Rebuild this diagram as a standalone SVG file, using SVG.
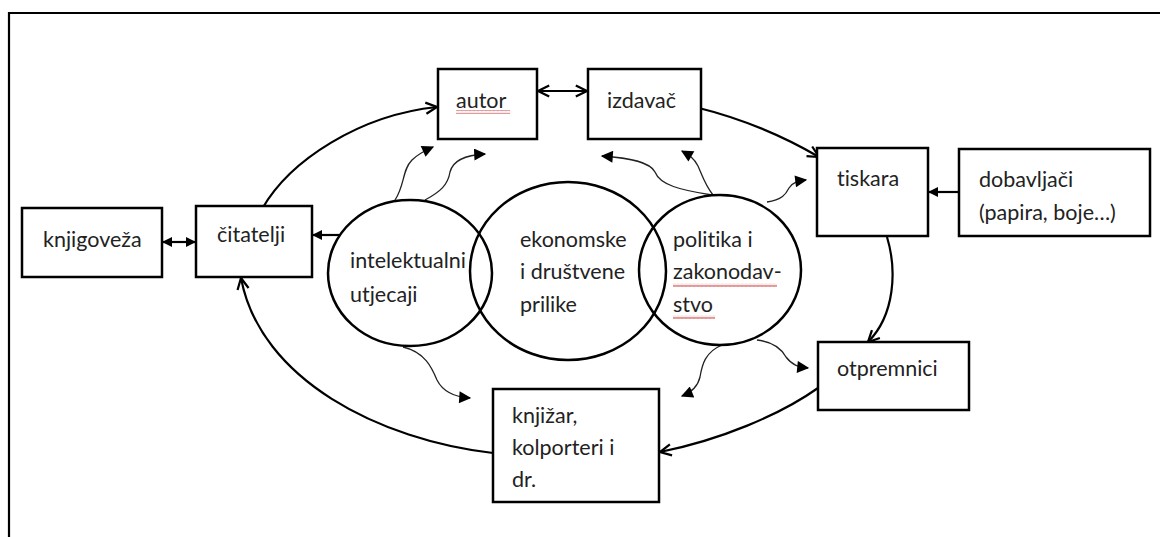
<svg xmlns="http://www.w3.org/2000/svg" width="1160" height="537" viewBox="0 0 1160 537">
<style>
.box{fill:#fff;stroke:#000;stroke-width:2.5}
.circ{fill:none;stroke:#000;stroke-width:2.5}
.t{font-family:Lato,"Open Sans","Liberation Sans",sans-serif;font-size:21.5px;fill:#222;font-variant-ligatures:none}
.main{fill:none;stroke:#000;stroke-width:2.2}
.wavy{fill:none;stroke:#222;stroke-width:1.3}
.sq{fill:url(#squig)}
</style>
<defs>
<marker id="open" viewBox="0 0 10 10" refX="9" refY="5" markerWidth="14" markerHeight="14" orient="auto-start-reverse" markerUnits="userSpaceOnUse">
<path d="M1,1 L9,5 L1,9" fill="none" stroke="#000" stroke-width="1.6"/>
</marker>
<marker id="tri" viewBox="0 0 10 10" refX="9" refY="5" markerWidth="14" markerHeight="12" orient="auto-start-reverse" markerUnits="userSpaceOnUse">
<path d="M0,0 L10,5 L0,10z" fill="#000"/>
</marker>
<marker id="tris" viewBox="0 0 10 10" refX="9" refY="5" markerWidth="11" markerHeight="10" orient="auto-start-reverse" markerUnits="userSpaceOnUse">
<path d="M0,0 L10,5 L0,10z" fill="#000"/>
</marker>
<pattern id="squig" width="4" height="4" patternUnits="userSpaceOnUse">
<path d="M0,3.2 L1,0.8 L2,3.2 L3,0.8 L4,3.2" fill="none" stroke="#d05a5a" stroke-width="0.7"/>
</pattern>
</defs>
<rect width="1160" height="537" fill="#fff"/>
<path d="M9,537 L9,13 L1160,13" fill="none" stroke="#000" stroke-width="2.2"/>

<g id="connectors">
<path class="main" d="M262,209 C290,160 360,115 437,107" marker-end="url(#open)"/>
<path class="main" d="M538,91 L587,91" marker-start="url(#open)" marker-end="url(#open)"/>
<path class="main" d="M695,107 C740,118 785,137 819,157" marker-end="url(#open)"/>
<path class="main" d="M959,192 L929,192" stroke-width="1.8" marker-end="url(#tris)"/>
<path class="main" d="M887,237 C897,270 895,315 868,342" marker-end="url(#open)"/>
<path class="main" d="M818,388 C780,415 720,440 660,452" marker-end="url(#open)"/>
<path class="main" d="M493,453 C380,440 260,380 241,278" marker-end="url(#open)"/>
<path class="main" d="M163,242 L195,242" stroke-width="1.8" marker-start="url(#tris)" marker-end="url(#tris)"/>
<path class="main" d="M340,235 L313,235" stroke-width="1.5" marker-end="url(#tris)"/>
<path class="wavy" d="M395,200 C405,185 402,170 412,160 C418,154 424,151 433,147" marker-end="url(#tri)"/>
<path class="wavy" d="M425,200 C440,192 448,185 450,172 C453,160 465,155 485,154" marker-end="url(#tri)"/>
<path class="wavy" d="M712,195 C680,190 660,185 655,172 C650,162 630,158 602,156" marker-end="url(#tri)"/>
<path class="wavy" d="M713,195 C705,185 702,175 698,166 C694,158 689,155 682,151" marker-end="url(#tri)"/>
<path class="wavy" d="M767,202 C782,200 786,194 789,188 C793,182 798,181 806,180" marker-end="url(#tri)"/>
<path class="wavy" d="M403,347 C425,352 432,368 437,380 C443,392 455,397 470,398" marker-end="url(#tri)"/>
<path class="wavy" d="M722,345 C705,352 702,365 700,377 C698,386 692,392 682,396" marker-end="url(#tri)"/>
<path class="wavy" d="M757,340 C775,342 782,350 786,357 C792,365 798,367 808,368" marker-end="url(#tri)"/>
</g>

<g id="autor">
<rect class="box" x="438" y="69" width="99" height="70"/>
<text class="t" x="456" y="108">autor</text>
<rect class="sq" x="456" y="110" width="54" height="4"/>
</g>
<g id="izdavac">
<rect class="box" x="588" y="69" width="113" height="70"/>
<text class="t" x="607" y="108">izdavač</text>
</g>
<g id="tiskara">
<rect class="box" x="817" y="148" width="111" height="88"/>
<text class="t" x="837" y="186">tiskara</text>
</g>
<g id="dobavljaci">
<rect class="box" x="959" y="149" width="191" height="87"/>
<text class="t" x="979" y="187">dobavljači</text>
<text class="t" x="979" y="220">(papira, boje…)</text>
</g>
<g id="knjigoveza">
<rect class="box" x="22" y="208" width="140" height="69"/>
<text class="t" x="43" y="247">knjigoveža</text>
</g>
<g id="citatelji">
<rect class="box" x="196" y="206" width="116" height="71"/>
<text class="t" x="217" y="242">čitatelji</text>
</g>
<g id="otpremnici">
<rect class="box" x="818" y="342" width="151" height="68"/>
<text class="t" x="837" y="376">otpremnici</text>
</g>
<g id="knjizar">
<rect class="box" x="493" y="389" width="166" height="113"/>
<text class="t" x="512" y="423">knjižar,</text>
<text class="t" x="512" y="455">kolporteri i</text>
<text class="t" x="512" y="487">dr.</text>
</g>
<g id="intelektualni">
<ellipse class="circ" cx="410" cy="273" rx="82" ry="73"/>
<text class="t" x="350" y="268">intelektualni</text>
<text class="t" x="350" y="302">utjecaji</text>
</g>
<g id="ekonomske">
<ellipse class="circ" cx="568" cy="271" rx="98" ry="89"/>
<text class="t" x="520" y="247">ekonomske</text>
<text class="t" x="520" y="279">i društvene</text>
<text class="t" x="520" y="312">prilike</text>
</g>
<g id="politika">
<ellipse class="circ" cx="720" cy="270" rx="81" ry="75"/>
<text class="t" x="673" y="247">politika i</text>
<text class="t" x="673" y="279">zakonodav-</text>
<text class="t" x="673" y="312">stvo</text>
<rect class="sq" x="673" y="283" width="104" height="4"/>
<rect class="sq" x="673" y="315" width="42" height="4"/>
</g>
</svg>
